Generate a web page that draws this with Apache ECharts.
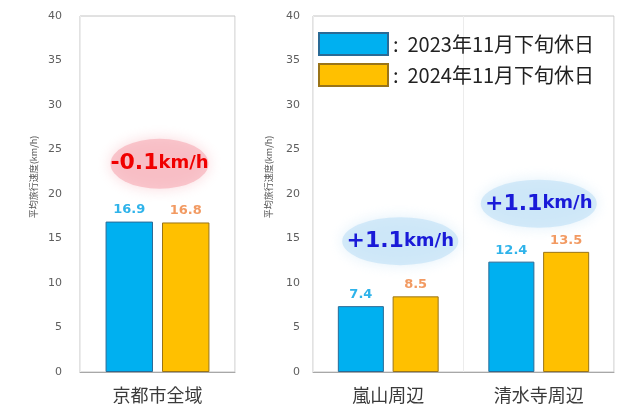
<!DOCTYPE html>
<html>
<head>
<meta charset="utf-8">
<script src="https://cdn.jsdelivr.net/npm/echarts@6/dist/echarts.min.js"></script>
<style>html,body{margin:0;padding:0;background:#fff}#c{width:622px;height:412px}</style>
</head>
<body>
<div id="c"></div>
<script>
// ---- data ----
const categoriesAll = ['京都市全域'];
const categoriesArea = ['嵐山周辺', '清水寺周辺'];
const seriesNames = ['2023年11月下旬休日', '2024年11月下旬休日'];
const valuesAll2023 = [16.9];
const valuesAll2024 = [16.8];
const valuesArea2023 = [7.4, 12.4];
const valuesArea2024 = [8.5, 13.5];
const diffAll = ['-0.1'];
const diffArea = ['+1.1', '+1.1'];
const yMin = 0, yMax = 40, yStep = 5;
const axisName = '平均旅行速度(km/h)';

// ---- styles ----
const BLUE = '#00b0f0', YELLOW = '#ffc000';
const BLUE_BORDER = '#2a6a95', YELLOW_BORDER = '#9a7418';
const BLUE_LABEL = '#2fb3ea', ORANGE_LABEL = '#f29a62';
const ELLIPSE = 'path://M0 50 A50 50 0 1 1 100 50 A50 50 0 1 1 0 50 Z';

const chart = echarts.init(document.getElementById('c'), null, {renderer: 'canvas'});

function yAxis(gridIndex, margin, gap) {
  return {
    type: 'value', gridIndex, min: yMin, max: yMax, interval: yStep,
    axisLine: {show: false}, axisTick: {show: false}, splitLine: {show: false},
    axisLabel: {color: '#5e5e5e', fontSize: 11, fontFamily: 'DejaVu Sans', margin},
    name: axisName, nameLocation: 'middle', nameGap: gap,
    nameTextStyle: {fontSize: 9, color: '#555', fontFamily: 'Noto Sans CJK JP', padding: [0, 0, 0, 34]}
  };
}
function xAxis(gridIndex, data) {
  return {
    type: 'category', gridIndex, data,
    axisLine: {show: true, lineStyle: {color: '#a8a8a8'}},
    axisTick: {show: false},
    splitLine: {show: true, lineStyle: {color: '#ececec'}},
    axisLabel: {fontSize: 18, color: '#3a3a3a', fontFamily: 'Noto Sans CJK JP', margin: 14}
  };
}
function bar(name, idx, data, color, border, labelColor) {
  return {
    type: 'bar', name, xAxisIndex: idx, yAxisIndex: idx, data,
    barGap: '19%', barCategoryGap: '33%',
    itemStyle: {color, borderColor: border, borderWidth: 1},
    label: {show: true, position: 'top', distance: 5, color: labelColor,
      fontSize: 13, fontWeight: 'bold', fontFamily: 'DejaVu Sans'}
  };
}
function note(idx, cats, texts, ys, fill, textColor, size, offsets) {
  return {
    type: 'scatter', name: 'note' + idx, xAxisIndex: idx, yAxisIndex: idx,
    symbol: ELLIPSE, symbolSize: size, z: 1, silent: true,
    itemStyle: {color: fill, opacity: 1, shadowBlur: 14, shadowColor: fill},
    data: cats.map((c, i) => ({value: [c, ys[i]], symbolOffset: offsets[i], diff: texts[i]})),
    label: {
      show: true, position: 'inside', opacity: 1,
      formatter: p => '{a|' + p.data.diff + '}{b|km/h}',
      rich: {
        a: {fontSize: 22, fontWeight: 'bold', color: textColor, fontFamily: 'DejaVu Sans'},
        b: {fontSize: 18, fontWeight: 'bold', color: textColor, fontFamily: 'DejaVu Sans'}
      }
    }
  };
}

chart.setOption({
  animation: false,
  backgroundColor: '#fff',
  grid: [
    {left: 80, top: 16, width: 155, bottom: 40, show: true, borderColor: '#c4c4c4', borderWidth: 1, backgroundColor: 'transparent'},
    {left: 313, top: 16, width: 301, bottom: 40, show: true, borderColor: '#c4c4c4', borderWidth: 1, backgroundColor: 'transparent'}
  ],
  legend: {
    data: seriesNames, orient: 'vertical', left: 318, top: 32, padding: 0,
    itemWidth: 69, itemHeight: 22, itemGap: 7, icon: 'rect',
    itemStyle: {borderWidth: 2},
    formatter: n => ':  ' + n,
    textStyle: {fontSize: 20, color: '#222', fontFamily: 'Noto Sans CJK JP', padding: [0, 0, 0, 0]}
  },
  xAxis: [xAxis(0, categoriesAll), xAxis(1, categoriesArea)],
  yAxis: [yAxis(0, 18, 42), yAxis(1, 13, 40)],
  series: [
    bar(seriesNames[0], 0, valuesAll2023, BLUE, BLUE_BORDER, BLUE_LABEL),
    bar(seriesNames[1], 0, valuesAll2024, YELLOW, YELLOW_BORDER, ORANGE_LABEL),
    bar(seriesNames[0], 1, valuesArea2023, BLUE, BLUE_BORDER, BLUE_LABEL),
    bar(seriesNames[1], 1, valuesArea2024, YELLOW, YELLOW_BORDER, ORANGE_LABEL),
    note(0, categoriesAll, diffAll, [23.4], 'rgba(246,178,186,0.7)', '#f00000', [98, 50], [[2, 0]]),
    note(1, categoriesArea, diffArea, [14.7, 18.9], 'rgba(196,226,247,0.7)', '#1a1ad8', [116, 48], [[12, 0], [0, 0]])
  ]
});
</script>
</body>
</html>
